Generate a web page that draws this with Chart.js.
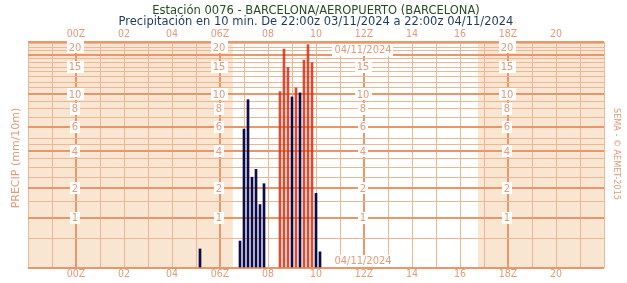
<!DOCTYPE html>
<html><head><meta charset="utf-8">
<script src="https://cdn.jsdelivr.net/npm/chart.js@4.4.1/dist/chart.umd.min.js"></script>
<style>html,body{margin:0;padding:0;background:#fff;}#wrap{width:627px;height:283px;}</style>
</head><body><div id="wrap"><canvas id="c" width="627" height="283"></canvas></div>
<script>
// ---- data (times are end of each 10-min interval, 04/11/2024, UTC) ----
const times  = ['05:10','06:50','07:00','07:10','07:20','07:30','07:40','07:50','08:30','08:40','08:50','09:00','09:10','09:20','09:30','09:40','09:50','10:00','10:10'];
const precip = [0.3, 0.45, 5.8, 9.2, 2.5, 2.9, 1.4, 2.2, 10.4, 19.5, 14.9, 9.6, 11.0, 10.2, 16.6, 20.8, 16.0, 1.8, 0.25];
const hourLabels = ['00Z','02','04','06Z','08','10','12Z','14','16','18Z','20'];
const hourLabelTimes = ['00:00','02:00','04:00','06:00','08:00','10:00','12:00','14:00','16:00','18:00','20:00'];
const yLabelValues = [20, 15, 10, 8, 6, 4, 2, 1];
const yGridThin = [0.5, 1.5, 2.5, 3, 3.5, 4.5, 5, 7, 8, 9, 11, 12, 13, 14, 15, 16, 17, 19, 20, 21];
const yGridThick = [0, 1, 2, 4, 6, 10, 18, 21.6];
const labelColumns = ['00:00', '06:00', '12:00', '18:00'];
const dateLabel = '04/11/2024';
const sunrise = '06:32', sunset = '16:45';
const titleText = 'Estación 0076 - BARCELONA/AEROPUERTO (BARCELONA)';
const subtitleText = 'Precipitación en 10 min. De 22:00z 03/11/2024 a 22:00z 04/11/2024';
const yTitle = 'PRECIP (mm/10m)';
const credit = 'SEMA - © AEMET-2015';

// hours since 22:00z 03/11/2024
const toOffset = s => { const [h, m] = s.split(':').map(Number); return h + m / 60 + 2; };

const SHADE = '#f8e5d2', THIN = '#efb693', THICK = '#e8976a', LBL = '#e39b7a';
const NAVY = '#0b0b4b', RED = 'rgba(214,52,22,0.88)';
const TICKFONT = '"Liberation Sans Narrow", "DejaVu Sans Condensed", sans-serif';

class Log1pScale extends Chart.LinearScale {
  static id = 'log1p';
  static defaults = {};
  _lr() { return [Math.log10(1 + this.min), Math.log10(1 + this.max)]; }
  getPixelForValue(v) { const [a, b] = this._lr(); return this.getPixelForDecimal((Math.log10(1 + v) - a) / (b - a)); }
  getValueForPixel(p) { const [a, b] = this._lr(); return Math.pow(10, a + this.getDecimalForPixel(p) * (b - a)) - 1; }
}
Chart.register(Log1pScale);

const thickX = labelColumns.map(toOffset);
const yGridAll = [...yGridThin, ...yGridThick].sort((a, b) => a - b);
const isThickX = c => !!(c && c.tick && thickX.includes(c.tick.value));
const isThickY = c => !!(c && c.tick && yGridThick.includes(c.tick.value));

const shadePlugin = {
  id: 'shade',
  beforeDraw(chart) {
    const { ctx, chartArea: a, scales: { x } } = chart;
    ctx.save();
    ctx.fillStyle = SHADE;
    const sr = x.getPixelForValue(toOffset(sunrise)), ss = x.getPixelForValue(toOffset(sunset));
    ctx.fillRect(a.left, a.top, sr - a.left, a.bottom - a.top);
    ctx.fillRect(ss, a.top, a.right - ss, a.bottom - a.top);
    ctx.restore();
  }
};

function box(ctx, text, cx, cy, font) {
  ctx.font = font;
  const w = ctx.measureText(text).width;
  ctx.fillStyle = '#ffffff';
  ctx.fillRect(Math.round(cx - w / 2 - 2), Math.round(cy - 6), Math.round(w + 4), 12);
  ctx.fillStyle = LBL;
  ctx.fillText(text, cx, cy + 0.5);
}

const labelPlugin = {
  id: 'labels',
  afterDraw(chart) {
    const { ctx, chartArea: a, scales: { x, y } } = chart;
    ctx.save();
    ctx.textAlign = 'center';
    ctx.textBaseline = 'middle';
    ctx.font = '10.5px ' + TICKFONT;
    ctx.fillStyle = LBL;
    hourLabels.forEach((l, i) => {
      const px = x.getPixelForValue(toOffset(hourLabelTimes[i]));
      ctx.fillText(l, px, 34.5);
      ctx.fillText(l, px, 274.5);
    });
    const f = '11px ' + TICKFONT;
    labelColumns.forEach(c => {
      const px = x.getPixelForValue(toOffset(c)) - 1;
      yLabelValues.forEach(v => {
        if (c === '12:00' && v === 20) return;
        box(ctx, String(v), px, y.getPixelForValue(v), f);
      });
      if (c === '12:00') {
        box(ctx, dateLabel, px, y.getPixelForValue(20) + 2.5, f);
        box(ctx, dateLabel, px, a.bottom - 7, f);
      }
    });
    ctx.fillStyle = LBL;
    ctx.font = '11px "DejaVu Sans", sans-serif';
    ctx.save();
    ctx.translate(16, 158);
    ctx.rotate(-Math.PI / 2);
    ctx.fillText(yTitle, 0, 0);
    ctx.restore();
    ctx.font = '9px ' + TICKFONT;
    ctx.save();
    ctx.translate(616, 154);
    ctx.rotate(Math.PI / 2);
    ctx.fillText(credit, 0, 0);
    ctx.restore();
    ctx.restore();
  }
};

new Chart(document.getElementById('c'), {
  type: 'bar',
  data: {
    datasets: [{
      label: yTitle,
      data: times.map((t, i) => ({ x: toOffset(t), y: precip[i] })),
      backgroundColor: c => (c.raw && c.raw.y > 10.3) ? RED : NAVY,
      barThickness: 2,
      borderWidth: 0
    }]
  },
  options: {
    responsive: false, animation: false, devicePixelRatio: 1,
    layout: { padding: { left: 28, right: 23, top: 0, bottom: 15 } },
    plugins: {
      legend: { display: false }, tooltip: { enabled: false },
      title: { display: true, text: titleText, color: '#234d20', font: { family: '"DejaVu Sans", sans-serif', size: 11.5, weight: 'normal', lineHeight: 1 }, padding: { top: 5, bottom: 0 } },
      subtitle: { display: true, text: subtitleText, color: '#1d3a5c', font: { family: '"DejaVu Sans", sans-serif', size: 11.5, weight: 'normal', lineHeight: 1 }, padding: { top: 0, bottom: 14 } }
    },
    scales: {
      x: {
        type: 'linear', min: 0, max: 24, offset: false,
        ticks: { display: false, stepSize: 1 },
        border: { display: false },
        grid: {
          offset: false,
          drawTicks: false,
          color: c => isThickX(c) ? THICK : THIN,
          lineWidth: c => isThickX(c) ? 2 : 1
        },
        afterBuildTicks: s => { s.ticks = Array.from({ length: 25 }, (_, i) => ({ value: i })); }
      },
      y: {
        type: 'log1p', min: 0, max: 21.6,
        ticks: { display: false },
        border: { display: false },
        grid: {
          drawTicks: false,
          color: c => isThickY(c) ? THICK : THIN,
          lineWidth: c => isThickY(c) ? 2 : 1
        },
        afterBuildTicks: s => { s.ticks = yGridAll.map(v => ({ value: v })); }
      }
    }
  },
  plugins: [shadePlugin, labelPlugin]
});
</script></body></html>
